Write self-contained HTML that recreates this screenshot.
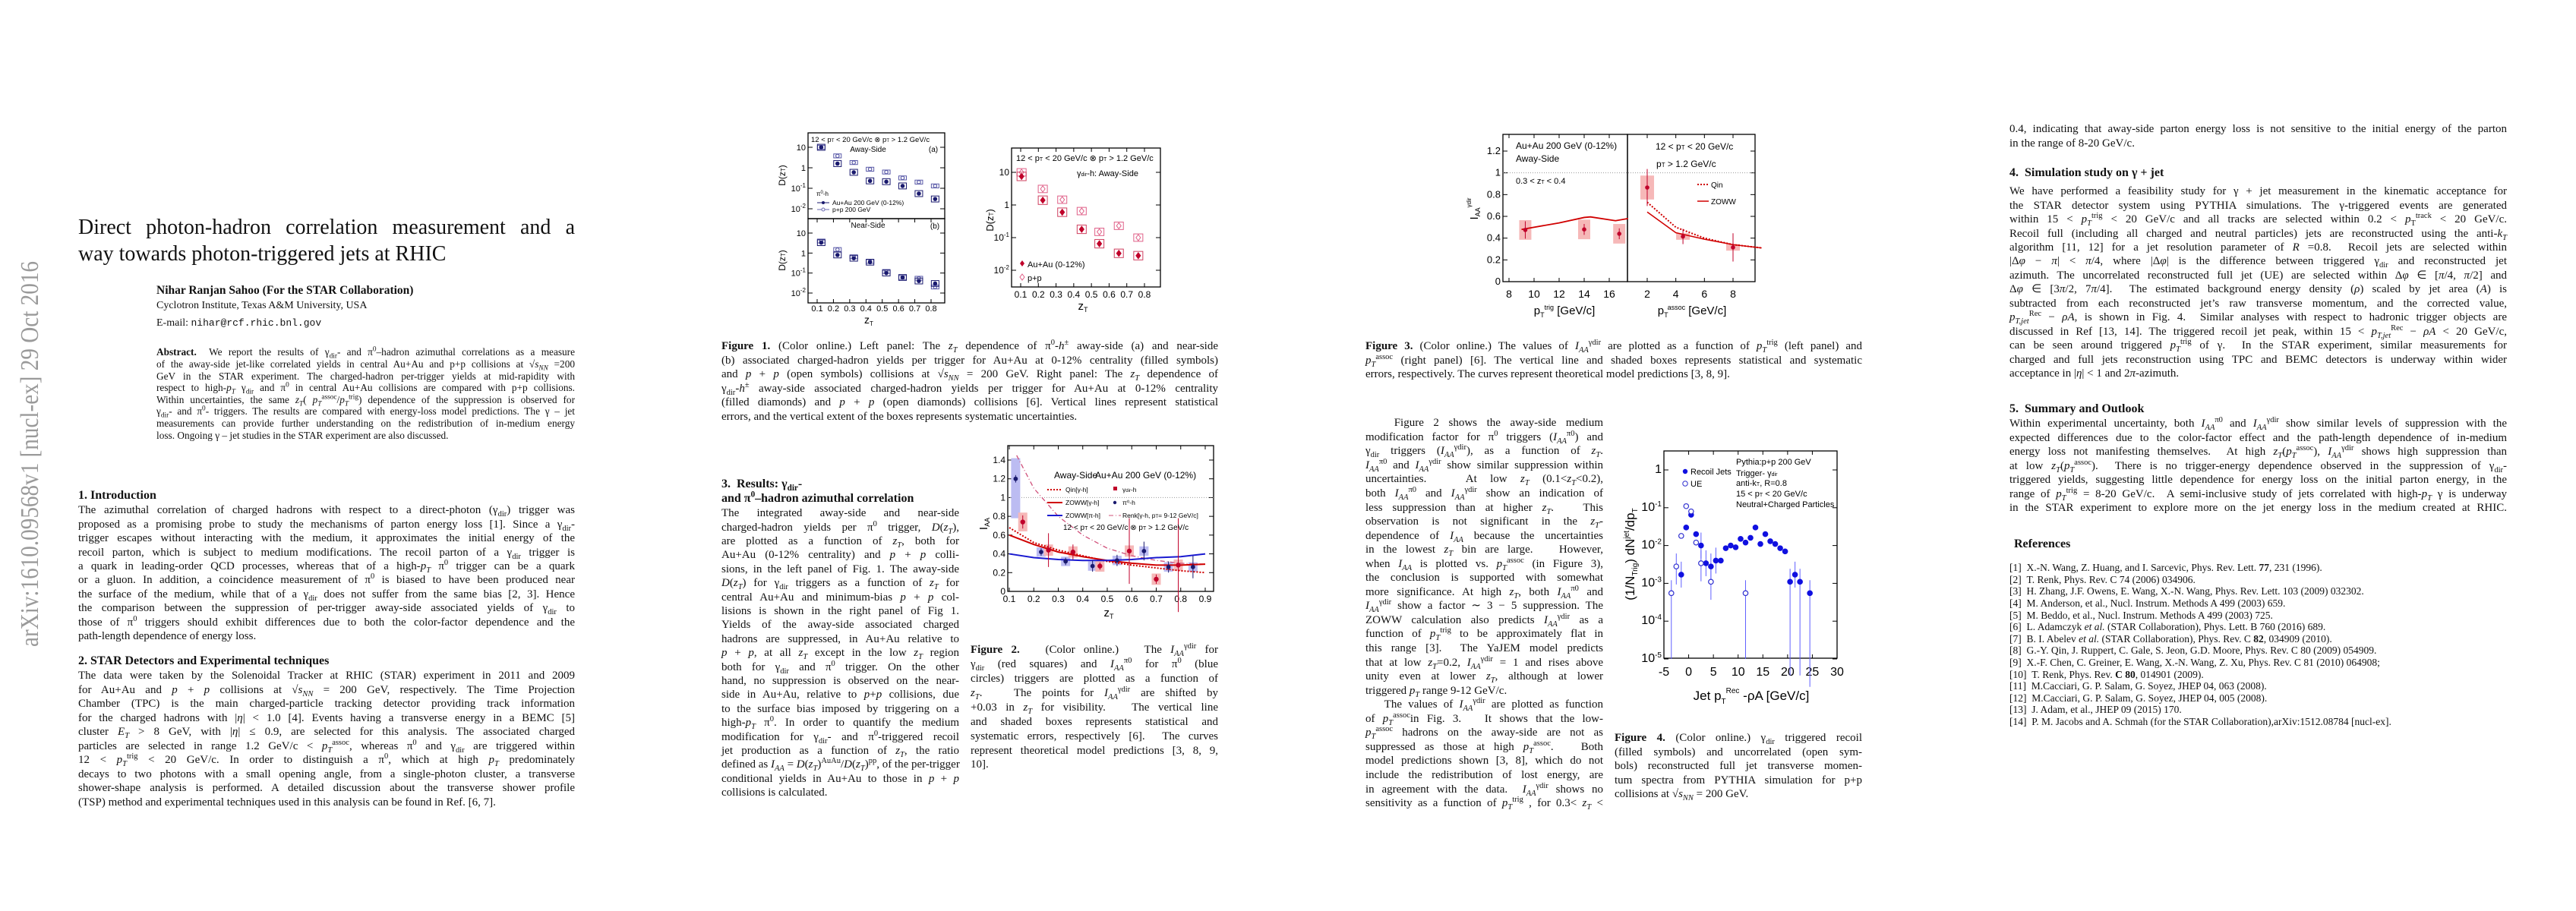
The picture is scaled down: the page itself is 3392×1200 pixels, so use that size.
<!DOCTYPE html>
<html><head><meta charset="utf-8">
<style>
html,body{margin:0;padding:0;background:#fff;}
body{width:3392px;height:1200px;position:relative;overflow:hidden;font-family:"Liberation Serif",serif;color:#111;}
.ln{position:absolute;white-space:nowrap;line-height:1.2;text-align:justify;}
.ln sub,.ln sup{font-size:0.7em;line-height:0;}
svg text{font-family:"Liberation Sans",sans-serif;}
</style></head>
<body>
<svg id="side" width="80" height="1200" style="position:absolute;left:0;top:0">
<text x="0" y="0" transform="translate(50,852) rotate(-90)" textLength="508" lengthAdjust="spacingAndGlyphs" font-size="34" fill="#9a9a9a" style="font-family:'Liberation Serif',serif">arXiv:1610.09568v1  [nucl-ex]  29 Oct 2016</text>
</svg>
<div id="text"></div>
<svg id="charts" width="3392" height="1200" style="position:absolute;left:0;top:0"></svg>
<script>
// ---------------- TEXT ----------------
const T=document.getElementById('text');
function L(x,y,w,fs,html,just,bold,name){
  const d=document.createElement('div');
  
  
  d.className='ln';
  d.style.left=x+'px';d.style.top=(y-0.72*fs)+'px';d.style.fontSize=fs+'px';
  if(w){d.style.width=w+'px';}
  if(just){d.style.textAlignLast='justify';}
  if(bold){d.style.fontWeight='bold';}
  d.innerHTML=html;T.appendChild(d);
}
function B(x,y0,dy,w,fs,lines,name){
  lines.forEach((s,i)=>{const last=s[0]==='~';L(x,y0+i*dy,w,fs,last?s.slice(1):s,!last,false,name);});
}
const g='γ<sub>dir</sub>';
// Page 1
L(103,303,654,28,'Direct photon-hadron correlation measurement and a',true,false,'paper-title');
L(103,338,0,28,'way towards photon-triggered jets at RHIC',false,false,'paper-title');
L(206,385,0,15.5,'Nihar Ranjan Sahoo (For the STAR Collaboration)',false,true,'author-name');
L(206,405,0,14,'Cyclotron Institute, Texas A&amp;M University, USA',false,false,'affiliation');
L(206,428,0,14,'E-mail: <span style="font-family:Liberation Mono,monospace;font-size:13px">nihar@rcf.rhic.bnl.gov</span>',false,false,'email');
B(206,466,15.6,551,13.3,[
'<b>Abstract.</b>&nbsp; We report the results of '+g+'- and π<sup>0</sup>–hadron azimuthal correlations as a measure',
'of the away-side jet-like correlated yields in central Au+Au and p+p collisions at √<i>s<sub>NN</sub></i> =200',
'GeV in the STAR experiment.  The charged-hadron per-trigger yields at mid-rapidity with',
'respect to high-<i>p<sub>T</sub></i> '+g+' and π<sup>0</sup> in central Au+Au collisions are compared with p+p collisions.',
'Within uncertainties, the same <i>z<sub>T</sub></i>( <i>p<sub>T</sub></i><sup>assoc</sup>/<i>p<sub>T</sub></i><sup>trig</sup>) dependence of the suppression is observed for',
g+'- and π<sup>0</sup>- triggers. The results are compared with energy-loss model predictions. The γ – jet',
'measurements can provide further understanding on the redistribution of in-medium energy',
'~loss. Ongoing γ – jet studies in the STAR experiment are also discussed.'],'abstract-line');
L(103,655,0,16,'1. Introduction',false,true,'section-heading');
B(103,674,18.45,654,15,[
'The azimuthal correlation of charged hadrons with respect to a direct-photon ('+g+') trigger was',
'proposed as a promising probe to study the mechanisms of parton energy loss [1]. Since a '+g+'-',
'trigger escapes without interacting with the medium, it approximates the initial energy of the',
'recoil parton, which is subject to medium modifications. The recoil parton of a '+g+' trigger is',
'a quark in leading-order QCD processes, whereas that of a high-<i>p<sub>T</sub></i> π<sup>0</sup> trigger can be a quark',
'or a gluon. In addition, a coincidence measurement of π<sup>0</sup> is biased to have been produced near',
'the surface of the medium, while that of a '+g+' does not suffer from the same bias [2, 3]. Hence',
'the comparison between the suppression of per-trigger away-side associated yields of '+g+' to',
'those of π<sup>0</sup> triggers should exhibit differences due to both the color-factor dependence and the',
'~path-length dependence of energy loss.'],'intro-line');
L(103,873,0,16,'2. STAR Detectors and Experimental techniques',false,true,'section-heading');
B(103,892,18.5,654,15,[
'The data were taken by the Solenoidal Tracker at RHIC (STAR) experiment in 2011 and 2009',
'for Au+Au and <i>p</i> + <i>p</i> collisions at √<i>s<sub>NN</sub></i> = 200 GeV, respectively.  The Time Projection',
'Chamber (TPC) is the main charged-particle tracking detector providing track information',
'for the charged hadrons with |<i>η</i>| &lt; 1.0 [4]. Events having a transverse energy in a BEMC  [5]',
'cluster <i>E<sub>T</sub></i> &gt; 8 GeV, with |<i>η</i>| ≤ 0.9, are selected for this analysis.  The associated charged',
'particles are selected in range 1.2 GeV/c &lt; <i>p<sub>T</sub></i><sup>assoc</sup>, whereas π<sup>0</sup> and '+g+' are triggered within',
'12 &lt; <i>p<sub>T</sub></i><sup>trig</sup> &lt; 20 GeV/c.  In order to distinguish a π<sup>0</sup>, which at high <i>p<sub>T</sub></i> predominately',
'decays to two photons with a small opening angle, from a single-photon cluster, a transverse',
'shower-shape analysis is performed. A detailed discussion about the transverse shower profile',
'~(TSP) method and experimental techniques used in this analysis can be found in Ref. [6, 7].'],'section2-line');
// Page 2
B(950,458,18.5,654,15,[
'<b>Figure 1.</b> (Color online.) Left panel: The <i>z<sub>T</sub></i> dependence of π<sup>0</sup>-<i>h</i><sup>±</sup> away-side (a) and near-side',
'(b) associated charged-hadron yields per trigger for Au+Au at 0-12% centrality (filled symbols)',
'and <i>p</i> + <i>p</i> (open symbols) collisions at √<i>s<sub>NN</sub></i> = 200 GeV. Right panel: The <i>z<sub>T</sub></i> dependence of',
g+'-<i>h</i><sup>±</sup> away-side associated charged-hadron yields per trigger for Au+Au at 0-12% centrality',
'(filled diamonds) and <i>p</i> + <i>p</i> (open diamonds) collisions [6].  Vertical lines represent statistical',
'~errors, and the vertical extent of the boxes represents systematic uncertainties.'],'figure1-caption');
L(950,640,0,16,'3. &nbsp;Results: '+g+'-',false,true,'section-heading');
L(950,659,0,16,'and π<sup>0</sup>–hadron azimuthal correlation',false,true,'section-heading');
B(950,678,18.4,313,15,[
'The integrated away-side and near-side',
'charged-hadron yields per π<sup>0</sup> trigger, <i>D</i>(<i>z<sub>T</sub></i>),',
'are plotted as a function of <i>z<sub>T</sub></i>, both for',
'Au+Au (0-12% centrality) and <i>p</i> + <i>p</i> colli-',
'sions, in the left panel of Fig. 1. The away-side',
'<i>D</i>(<i>z<sub>T</sub></i>) for '+g+' triggers as a function of <i>z<sub>T</sub></i> for',
'central Au+Au and minimum-bias <i>p</i> + <i>p</i> col-',
'lisions is shown in the right panel of Fig 1.',
'Yields of the away-side associated charged',
'hadrons are suppressed, in Au+Au relative to',
'<i>p</i> + <i>p</i>, at all <i>z<sub>T</sub></i> except in the low <i>z<sub>T</sub></i> region',
'both for '+g+' and π<sup>0</sup> trigger. On the other',
'hand, no suppression is observed on the near-',
'side in Au+Au, relative to <i>p</i>+<i>p</i> collisions, due',
'to the surface bias imposed by triggering on a',
'high-<i>p<sub>T</sub></i> π<sup>0</sup>. In order to quantify the medium',
'modification for '+g+'- and π<sup>0</sup>-triggered recoil',
'jet production as a function of <i>z<sub>T</sub></i>, the ratio',
'defined as <i>I<sub>AA</sub></i> = <i>D</i>(<i>z<sub>T</sub></i>)<sup>AuAu</sup>/<i>D</i>(<i>z<sub>T</sub></i>)<sup>pp</sup>, of the per-trigger',
'conditional yields in Au+Au to those in <i>p</i> + <i>p</i>',
'~collisions is calculated.'],'section3-line');
B(1278,858,18.9,326,15,[
'<b>Figure 2.</b> &nbsp; (Color online.) &nbsp; The <i>I<sub>AA</sub></i><sup>γdir</sup> for',
g+' (red squares) and <i>I<sub>AA</sub></i><sup>π0</sup> for π<sup>0</sup> (blue',
'circles) triggers are plotted as a function of',
'<i>z<sub>T</sub></i>. &nbsp; The points for <i>I<sub>AA</sub></i><sup>γdir</sup> are shifted by',
'+0.03 in <i>z<sub>T</sub></i> for visibility. &nbsp; The vertical line',
'and shaded boxes represents statistical and',
'systematic errors, respectively [6]. &nbsp;The curves',
'represent theoretical model predictions [3, 8, 9,',
'~10].'],'figure2-caption');
// Page 3
B(1798,458,18.3,654,15,[
'<b>Figure 3.</b> (Color online.) The values of <i>I<sub>AA</sub></i><sup>γdir</sup> are plotted as a function of <i>p<sub>T</sub></i><sup>trig</sup> (left panel) and',
'<i>p<sub>T</sub></i><sup>assoc</sup> (right panel) [6]. The vertical line and shaded boxes represents statistical and systematic',
'~errors, respectively. The curves represent theoretical model predictions [3, 8, 9].'],'figure3-caption');
B(1798,559,18.55,313,15,[
'&nbsp;&nbsp;&nbsp;Figure 2 shows the away-side medium',
'modification factor for π<sup>0</sup> triggers (<i>I<sub>AA</sub></i><sup>π0</sup>) and',
g+' triggers (<i>I<sub>AA</sub></i><sup>γdir</sup>), as a function of <i>z<sub>T</sub></i>.',
'<i>I<sub>AA</sub></i><sup>π0</sup> and <i>I<sub>AA</sub></i><sup>γdir</sup> show similar suppression within',
'uncertainties. &nbsp; At low <i>z<sub>T</sub></i> (0.1&lt;<i>z<sub>T</sub></i>&lt;0.2),',
'both <i>I<sub>AA</sub></i><sup>π0</sup> and <i>I<sub>AA</sub></i><sup>γdir</sup> show an indication of',
'less suppression than at higher <i>z<sub>T</sub></i>. &nbsp; This',
'observation is not significant in the <i>z<sub>T</sub></i>-',
'dependence of <i>I<sub>AA</sub></i> because the uncertainties',
'in the lowest <i>z<sub>T</sub></i> bin are large. &nbsp; However,',
'when <i>I<sub>AA</sub></i> is plotted vs. <i>p<sub>T</sub></i><sup>assoc</sup> (in Figure 3),',
'the conclusion is supported with somewhat',
'more significance. At high <i>z<sub>T</sub></i>, both <i>I<sub>AA</sub></i><sup>π0</sup> and',
'<i>I<sub>AA</sub></i><sup>γdir</sup> show a factor ∼ 3 − 5 suppression. The',
'ZOWW calculation also predicts <i>I<sub>AA</sub></i><sup>γdir</sup> as a',
'function of <i>p<sub>T</sub></i><sup>trig</sup> to be approximately flat in',
'this range [3]. &nbsp;The YaJEM model predicts',
'that at low <i>z<sub>T</sub></i>=0.2, <i>I<sub>AA</sub></i><sup>γdir</sup> = 1 and rises above',
'unity even at lower <i>z<sub>T</sub></i>, although at lower',
'~triggered <i>p<sub>T</sub></i> range 9-12 GeV/c.',
'&nbsp;&nbsp;&nbsp;The values of <i>I<sub>AA</sub></i><sup>γdir</sup> are plotted as function',
'of <i>p<sub>T</sub></i><sup>assoc</sup>in Fig. 3. &nbsp; It shows that the low-',
'<i>p<sub>T</sub></i><sup>assoc</sup> hadrons on the away-side are not as',
'suppressed as those at high <i>p<sub>T</sub></i><sup>assoc</sup>. &nbsp; Both',
'model predictions shown [3, 8], which do not',
'include the redistribution of lost energy, are',
'in agreement with the data. &nbsp;<i>I<sub>AA</sub></i><sup>γdir</sup> shows no',
'sensitivity as a function of <i>p<sub>T</sub></i><sup>trig</sup> , for 0.3&lt; <i>z<sub>T</sub></i> &lt;'],'page3-body-line');
B(2126,974,18.5,326,15,[
'<b>Figure 4.</b> (Color online.) '+g+' triggered recoil',
'(filled symbols) and uncorrelated (open sym-',
'bols) reconstructed full jet transverse momen-',
'tum spectra from PYTHIA simulation for p+p',
'~collisions at √<i>s<sub>NN</sub></i> = 200 GeV.'],'figure4-caption');
// Page 4
B(2646,172,18.4,655,15,[
'0.4, indicating that away-side parton energy loss is not sensitive to the initial energy of the parton',
'~in the range of 8-20 GeV/c.'],'page4-body-line');
L(2646,230,0,16,'4. &nbsp;Simulation study on γ + jet',false,true,'section-heading');
B(2646,254,18.45,655,15,[
'We have performed a feasibility study for γ + jet measurement in the kinematic acceptance for',
'the STAR detector system using PYTHIA simulations. The γ-triggered events are generated',
'within 15 &lt; <i>p<sub>T</sub></i><sup>trig</sup> &lt; 20 GeV/c and all tracks are selected within 0.2 &lt; <i>p</i><sub>T</sub><sup>track</sup> &lt; 20 GeV/c.',
'Recoil full (including all charged and neutral particles) jets are reconstructed using the anti-<i>k<sub>T</sub></i>',
'algorithm [11, 12] for a jet resolution parameter of <i>R</i> =0.8. &nbsp;Recoil jets are selected within',
'|Δ<i>φ</i> − <i>π</i>| &lt; <i>π</i>/4, where |Δ<i>φ</i>| is the difference between triggered '+g+' and reconstructed jet',
'azimuth. The uncorrelated reconstructed full jet (UE) are selected within Δ<i>φ</i> ∈ [<i>π</i>/4, <i>π</i>/2] and',
'Δ<i>φ</i> ∈ [3<i>π</i>/2, 7<i>π</i>/4]. &nbsp;The estimated background energy density (<i>ρ</i>) scaled by jet area (<i>A</i>) is',
'subtracted from each reconstructed jet’s raw transverse momentum, and the corrected value,',
'<i>p<sub>T,jet</sub></i><sup>Rec</sup> − <i>ρA</i>, is shown in Fig. 4. &nbsp;Similar analyses with respect to hadronic trigger objects are',
'discussed in Ref [13, 14]. The triggered recoil jet peak, within 15 &lt; <i>p<sub>T,jet</sub></i><sup>Rec</sup> − <i>ρA</i> &lt; 20 GeV/c,',
'can be seen around triggered <i>p<sub>T</sub></i><sup>trig</sup> of γ. &nbsp;In the STAR experiment, similar measurements for',
'charged and full jets reconstruction using TPC and BEMC detectors is underway within wider',
'~acceptance in |<i>η</i>| &lt; 1 and 2<i>π</i>-azimuth.'],'section4-line');
L(2646,541,0,16,'5. &nbsp;Summary and Outlook',false,true,'section-heading');
B(2646,560,18.5,655,15,[
'Within experimental uncertainty, both <i>I<sub>AA</sub></i><sup>π0</sup> and <i>I<sub>AA</sub></i><sup>γdir</sup> show similar levels of suppression with the',
'expected differences due to the color-factor effect and the path-length dependence of in-medium',
'energy loss not manifesting themselves. &nbsp;At high <i>z<sub>T</sub></i>(<i>p<sub>T</sub></i><sup>assoc</sup>), <i>I<sub>AA</sub></i><sup>γdir</sup> shows high suppression than',
'at low <i>z<sub>T</sub></i>(<i>p<sub>T</sub></i><sup>assoc</sup>). &nbsp;There is no trigger-energy dependence observed in the suppression of '+g+'-',
'triggered yields, suggesting little dependence for energy loss on the initial parton energy, in the',
'range of <i>p<sub>T</sub></i><sup>trig</sup> = 8-20 GeV/c. &nbsp;A semi-inclusive study of jets correlated with high-<i>p<sub>T</sub></i> γ is underway',
'in the STAR experiment to explore more on the jet energy loss in the medium created at RHIC.'],'section5-line');
L(2652,719,0,16,'References',false,true,'references-heading');
const refs=['[1] &nbsp;X.-N. Wang, Z. Huang, and I. Sarcevic, Phys. Rev. Lett. <b>77</b>, 231 (1996).',
'[2] &nbsp;T. Renk, Phys. Rev. C 74 (2006) 034906.',
'[3] &nbsp;H. Zhang, J.F. Owens, E. Wang, X.-N. Wang, Phys. Rev. Lett. 103 (2009) 032302.',
'[4] &nbsp;M. Anderson, et al., Nucl. Instrum. Methods A 499 (2003) 659.',
'[5] &nbsp;M. Beddo, et al., Nucl. Instrum. Methods A 499 (2003) 725.',
'[6] &nbsp;L. Adamczyk <i>et al.</i> (STAR Collaboration), Phys. Lett. B 760 (2016) 689.',
'[7] &nbsp;B. I. Abelev <i>et al.</i> (STAR Collaboration), Phys. Rev. C <b>82</b>, 034909 (2010).',
'[8] &nbsp;G.-Y. Qin, J. Ruppert, C. Gale, S. Jeon, G.D. Moore, Phys. Rev. C 80 (2009) 054909.',
'[9] &nbsp;X.-F. Chen, C. Greiner, E. Wang, X.-N. Wang, Z. Xu, Phys. Rev. C 81 (2010) 064908;',
'[10] &nbsp;T. Renk, Phys. Rev. <b>C 80</b>, 014901 (2009).',
'[11] &nbsp;M.Cacciari, G. P. Salam, G. Soyez, JHEP 04, 063 (2008).',
'[12] &nbsp;M.Cacciari, G. P. Salam, G. Soyez, JHEP 04, 005 (2008).',
'[13] &nbsp;J. Adam, et al., JHEP 09 (2015) 170.',
'[14] &nbsp;P. M. Jacobs and A. Schmah (for the STAR Collaboration),arXiv:1512.08784 [nucl-ex].'];
refs.forEach((r,i)=>L(2646,750+i*15.6,0,13.5,r,false,false,'reference-entry'));
</script>
<script>
// ---------------- CHART DATA ----------------
const zt1=[0.125,0.225,0.325,0.425,0.525,0.625,0.725,0.825];
const f1aAuAu=[10,1.6,0.6,0.23,0.21,0.13,0.055,0.03];
const f1aPP=[10,3.8,1.8,0.85,0.62,0.32,0.2,0.13];
const f1bAuAu=[3.3,0.8,0.55,0.35,0.1,0.06,0.04,0.03];
const f1bPP=[4,1.5,0.65,0.38,0.12,0.06,0.055,0.02];
const zt1r=[0.105,0.225,0.335,0.445,0.545,0.655,0.765];
const f1rAuAu=[7.5,1.4,0.6,0.18,0.065,0.033,0.028];
const f1rPP=[10,3.1,1.45,0.65,0.15,0.23,0.1];
const zt2pi=[0.126,0.23,0.33,0.44,0.54,0.65,0.75,0.85];
const iaaPi=[1.2,0.42,0.32,0.27,0.33,0.43,0.26,0.26];
const iaaPiErr=[0.04,0.04,0.04,0.06,0.06,0.1,0.06,0.12];
const zt2g=[0.155,0.26,0.36,0.47,0.59,0.70,0.79];
const iaaG=[0.74,0.44,0.42,0.27,0.43,0.13,0.28];
const iaaGErr=[0.07,0.18,0.08,0.04,0.35,0.05,0.5];
const zowwGx=[0.1,0.2,0.3,0.4,0.5,0.6,0.7,0.8,0.9];
const zowwG=[0.6,0.5,0.42,0.37,0.33,0.3,0.28,0.28,0.29];
const zowwPi=[0.4,0.36,0.34,0.33,0.33,0.34,0.36,0.37,0.4];
const qinG=[0.68,0.52,0.44,0.38,0.32,0.28,0.25,0.22,0.2];
const renkX=[0.13,0.2,0.3,0.4,0.5,0.6,0.7,0.8,0.9];
const renkG=[1.45,1.1,0.8,0.6,0.46,0.38,0.33,0.3,0.29];
const ptTrig=[9.3,14,16.8];
const iaaTrig=[0.475,0.48,0.44];
const zowwTrigX=[9,12,14,14.5,16.5,17.5];
const zowwTrig=[0.48,0.54,0.59,0.595,0.56,0.58];
const ptAssoc=[2,4.5,8];
const iaaAssoc=[0.865,0.415,0.315];
const modelAssocX=[2,4,6,8,10];
const qinAssoc=[0.73,0.5,0.4,0.34,0.31];
const zowwAssoc=[0.64,0.45,0.39,0.34,0.31];
const jetX=[-1.5,-0.5,0.5,1.5,2.5,3.5,4.5,5.5,6.5,7.5,8.5,9.5,10.5,11.5,12.5,13.5,14.5,15.5,16.5,17.5,18.5,19.5,20.5,21.5,22.5,24.5];
const jetY=[0.0017,0.03,0.065,0.02,0.01,0.0034,0.0028,0.004,0.004,0.0085,0.01,0.009,0.015,0.012,0.016,0.03,0.011,0.02,0.013,0.011,0.0085,0.007,0.0011,0.0017,0.0011,0.00055];
const ueX=[-3.5,-2.5,-1.5,-0.5,0.5,1.5,2.5,4.5,11.5];
const ueY=[0.00055,0.0028,0.018,0.11,0.08,0.012,0.0034,0.0011,0.00055];
const logTicks=['10<tspan dy="-5" font-size="8">-2</tspan>','10<tspan dy="-5" font-size="8">-1</tspan>','1','10'];

// ---------------- HELPERS ----------------
const S=document.getElementById('charts');const NS='http://www.w3.org/2000/svg';
function el(tag,attrs,parent){const e=document.createElementNS(NS,tag);for(const k in attrs)e.setAttribute(k,attrs[k]);(parent||S).appendChild(e);return e;}
function lin(v0,p0,v1,p1){return v=>p0+(v-v0)*(p1-p0)/(v1-v0);}
function lg(v0,p0,v1,p1){const f=lin(Math.log10(v0),p0,Math.log10(v1),p1);return v=>f(Math.log10(Math.max(v,1e-9)));}
function frame(x0,y0,x1,y1,name){const r=el('rect',{x:x0,y:y0,width:x1-x0,height:y1-y0,fill:'none',stroke:'#000','stroke-width':1.3});}
function txt(x,y,s,fs,anchor,name,extra){const t=el('text',Object.assign({x:x,y:y,'font-size':fs,'text-anchor':anchor||'middle',fill:'#000'},extra||{}));t.innerHTML=s;return t;}
function xticks(X,vals,labels,y0,y1,ylab,fs){vals.forEach((v,i)=>{el('line',{x1:X(v),x2:X(v),y1:y1,y2:y1-5,stroke:'#000'});el('line',{x1:X(v),x2:X(v),y1:y0,y2:y0+5,stroke:'#000'});txt(X(v),ylab,labels[i],fs,'middle','x-tick-label');});}
function yticks(Y,vals,labels,x0,x1,fs){vals.forEach((v,i)=>{el('line',{x1:x0,x2:x0+6,y1:Y(v),y2:Y(v),stroke:'#000'});el('line',{x1:x1,x2:x1-6,y1:Y(v),y2:Y(v),stroke:'#000'});txt(x0-3,Y(v)+4,labels[i],fs,'end','y-tick-label');});}
function pts(X,Y,xs,ys,opt){xs.forEach((x,i)=>{const cx=X(x),cy=Y(ys[i]);
  if(opt.box){const b=el('rect',{x:cx-opt.bw,y:Math.min(Y(ys[i]*opt.box),Y(ys[i]/opt.box)),width:2*opt.bw,height:Math.abs(Y(ys[i]*opt.box)-Y(ys[i]/opt.box)),fill:opt.boxFill||'none',stroke:opt.boxStroke||'none','stroke-width':1});}
  if(opt.err){el('line',{x1:cx,x2:cx,y1:Y(ys[i]+opt.err[i]),y2:Y(Math.max(ys[i]-opt.err[i],opt.floor||-1)),stroke:opt.color,'stroke-width':1});}
  let m;
  if(opt.shape==='dia'){const r=opt.r;m=el('polygon',{points:`${cx},${cy-r} ${cx+r*0.75},${cy} ${cx},${cy+r} ${cx-r*0.75},${cy}`,fill:opt.open?'#fff':opt.color,stroke:opt.color,'stroke-width':1});}
  else{m=el('circle',{cx:cx,cy:cy,r:opt.r,fill:opt.open?'#fff':opt.color,stroke:opt.color,'stroke-width':1.2});}
  });}
function curve(X,Y,xs,ys,attrs,name){const p=el('polyline',Object.assign({points:xs.map((x,i)=>X(x)+','+Y(ys[i])).join(' '),fill:'none'},attrs));}

// ---------------- FIGURE 1 LEFT ----------------
(function(){
  const X=lin(0.1,1076,0.8,1226);
  const Ya=lg(10,194,0.01,275), Yb=lg(10,307,0.01,386);
  frame(1064,175,1244,288,'fig1-panel-a');frame(1064,288,1244,399,'fig1-panel-b');
  yticks(Ya,[0.01,0.1,1,10],logTicks,1064,1244,11);yticks(Yb,[0.01,0.1,1,10],logTicks,1064,1244,11);
  xticks(X,[0.1,0.2,0.3,0.4,0.5,0.6,0.7,0.8],['0.1','0.2','0.3','0.4','0.5','0.6','0.7','0.8'],288,399,410,11);
  txt(1144,426,'z<tspan dy="3" font-size="8">T</tspan>',14,'middle','x-axis-title');
  txt(1034,231,'D(z<tspan font-size="8">T</tspan>)',12,'middle','y-axis-title',{transform:'rotate(-90 1034 231)'});
  txt(1034,343,'D(z<tspan font-size="8">T</tspan>)',12,'middle','y-axis-title',{transform:'rotate(-90 1034 343)'});
  txt(1068,187,'12 &lt; p<tspan font-size="6">T</tspan> &lt; 20 GeV/c ⊗ p<tspan font-size="6">T</tspan> &gt; 1.2 GeV/c',9.5,'start','panel-annotation');
  txt(1143,200,'Away-Side',10,'middle','panel-annotation');txt(1229,200,'(a)',10,'middle','panel-annotation');
  txt(1143,300,'Near-Side',10,'middle','panel-annotation');txt(1231,301,'(b)',10,'middle','panel-annotation');
  txt(1075,258,'π<tspan font-size="6" dy="-3">0</tspan><tspan dy="3">-h</tspan>',8,'start','legend-title');
  el('line',{x1:1076,x2:1092,y1:267,y2:267,stroke:'#1a1a6e'});el('circle',{cx:1084,cy:267,r:2,fill:'#1a1a6e'});
  txt(1096,270,'Au+Au 200 GeV (0-12%)',8.5,'start','legend-entry');
  el('line',{x1:1076,x2:1092,y1:276,y2:276,stroke:'#6a6ab0'});el('circle',{cx:1084,cy:276,r:2,fill:'#fff',stroke:'#6a6ab0'});
  txt(1096,279,'p+p 200 GeV',8.5,'start','legend-entry');
  pts(X,Ya,zt1,f1aPP,{r:2.2,color:'#5a5aa8',open:true,box:1.25,bw:5,boxStroke:'#5a5aa8',name:'pp-away-point'});
  pts(X,Ya,zt1,f1aAuAu,{r:2.2,color:'#1a1a6e',box:1.4,bw:5,boxStroke:'#1a1a6e',name:'auau-away-point'});
  pts(X,Yb,zt1,f1bPP,{r:2.2,color:'#5a5aa8',open:true,box:1.25,bw:5,boxStroke:'#5a5aa8',name:'pp-near-point'});
  pts(X,Yb,zt1,f1bAuAu,{r:2.2,color:'#1a1a6e',box:1.4,bw:5,boxStroke:'#1a1a6e',name:'auau-near-point'});
})();
// ---------------- FIGURE 1 RIGHT ----------------
(function(){
  const X=lin(0.1,1344,0.8,1507), Y=lg(10,227,0.01,356);
  frame(1332,195,1528,378,'fig1-right-panel');
  yticks(Y,[0.01,0.1,1,10],logTicks,1332,1528,12);
  xticks(X,[0.1,0.2,0.3,0.4,0.5,0.6,0.7,0.8],['0.1','0.2','0.3','0.4','0.5','0.6','0.7','0.8'],195,378,392,12);
  txt(1426,408,'z<tspan dy="3" font-size="9">T</tspan>',15,'middle','x-axis-title');
  txt(1308,290,'D(z<tspan font-size="8">T</tspan>)',13,'middle','y-axis-title',{transform:'rotate(-90 1308 290)'});
  txt(1338,212,'12 &lt; p<tspan font-size="7">T</tspan> &lt; 20 GeV/c ⊗ p<tspan font-size="7">T</tspan> &gt; 1.2 GeV/c',11,'start','panel-annotation');
  txt(1418,232,'γ<tspan font-size="7">dir</tspan>-h: Away-Side',11,'start','panel-annotation');
  pts(X,Y,zt1r,f1rPP,{r:4,color:'#e06088',open:true,shape:'dia',box:1.3,bw:6,boxStroke:'#e06088',name:'pp-gamma-point'});
  pts(X,Y,zt1r,f1rAuAu,{r:4,color:'#c0002a',shape:'dia',box:1.35,bw:6,boxStroke:'#d04060',name:'auau-gamma-point'});
  el('polygon',{points:'1346,343 1349,347 1346,351 1343,347',fill:'#c0002a'});txt(1353,352,'Au+Au (0-12%)',11,'start','legend-entry');
  el('polygon',{points:'1346,361 1349,365 1346,369 1343,365',fill:'#fff',stroke:'#e06088'});txt(1353,370,'p+p',11,'start','legend-entry');
})();
// ---------------- FIGURE 2 ----------------
(function(){
  const X=lin(0.1,1329,0.9,1587), Y=lin(0,779,1.4,606);
  frame(1327,587,1598,779,'fig2-panel');
  yticks(Y,[0,0.2,0.4,0.6,0.8,1,1.2,1.4],['0','0.2','0.4','0.6','0.8','1','1.2','1.4'],1327,1598,12);
  xticks(X,[0.1,0.2,0.3,0.4,0.5,0.6,0.7,0.8,0.9],['0.1','0.2','0.3','0.4','0.5','0.6','0.7','0.8','0.9'],587,779,793,12);
  txt(1460,812,'z<tspan dy="3" font-size="9">T</tspan>',15,'middle','x-axis-title');
  txt(1300,690,'I<tspan font-size="9" dy="3">AA</tspan>',15,'middle','y-axis-title',{transform:'rotate(-90 1300 690)'});
  el('line',{x1:1327,x2:1598,y1:Y(1),y2:Y(1),stroke:'#999','stroke-dasharray':'1,2'});
  zt2pi.forEach((x,i)=>{const b=el('rect',{x:X(x)-6,y:Y(iaaPi[i]+(i==0?0.22:0.05)),width:12,height:Y(iaaPi[i]-(i==0?0.42:0.05))-Y(iaaPi[i]+(i==0?0.22:0.05)),fill:'#bcbcf2'});});
  zt2g.forEach((x,i)=>{const b=el('rect',{x:X(x)-6,y:Y(iaaG[i]+(i==0?0.1:0.06)),width:12,height:Y(iaaG[i]-(i==0?0.1:0.06))-Y(iaaG[i]+(i==0?0.1:0.06)),fill:'#f6b8b8'});});
  curve(X,Y,renkX,renkG,{stroke:'#d0507a','stroke-width':1.3,'stroke-dasharray':'6,3,1,3'},'renk-curve');
  curve(X,Y,zowwGx,qinG,{stroke:'#d00000','stroke-width':2,'stroke-dasharray':'2,2'},'qin-curve');
  curve(X,Y,zowwGx,zowwG,{stroke:'#d00000','stroke-width':2},'zoww-gamma-curve');
  curve(X,Y,zowwGx,zowwPi,{stroke:'#1a1ad0','stroke-width':2},'zoww-pi0-curve');
  pts(X,Y,zt2pi,iaaPi,{r:2.3,color:'#1a1a6e',err:iaaPiErr,name:'pi0-iaa-point'});
  pts(X,Y,zt2g,iaaG,{r:2.6,color:'#c0002a',err:iaaGErr,floor:0,name:'gamma-iaa-point'});
  txt(1388,630,'Away-Side',12,'start','panel-annotation');txt(1442,630,'Au+Au 200 GeV (0-12%)',12,'start','panel-annotation');
  const lx=1379;
  el('line',{x1:lx,x2:lx+20,y1:645,y2:645,stroke:'#d00000','stroke-width':2,'stroke-dasharray':'2,2'});txt(lx+24,648,'Qin[γ-h]',8.5,'start','legend-entry');
  el('line',{x1:lx,x2:lx+20,y1:662,y2:662,stroke:'#d00000','stroke-width':2});txt(lx+24,665,'ZOWW[γ-h]',8.5,'start','legend-entry');
  el('line',{x1:lx,x2:lx+20,y1:679,y2:679,stroke:'#1a1ad0','stroke-width':2});txt(lx+24,682,'ZOWW[π-h]',8.5,'start','legend-entry');
  el('rect',{x:1466,y:641,width:5,height:5,fill:'#c0002a'});txt(1478,648,'γ<tspan font-size="6">dir</tspan>-h',8.5,'start','legend-entry');
  el('circle',{cx:1468,cy:662,r:2.2,fill:'#1a1a6e'});txt(1478,665,'π⁰-h',8.5,'start','legend-entry');
  el('line',{x1:1460,x2:1476,y1:679,y2:679,stroke:'#d0507a','stroke-dasharray':'6,3,1,3'});txt(1478,682,'Renk[γ-h, p<tspan font-size="6">T</tspan>= 9-12 GeV/c]',8.5,'start','legend-entry');
  txt(1400,698,'12 &lt; p<tspan font-size="7">T</tspan> &lt; 20 GeV/c ⊗ p<tspan font-size="7">T</tspan> &gt; 1.2 GeV/c',10,'start','panel-annotation');
})();
// ---------------- FIGURE 3 ----------------
(function(){
  const Y=lin(0,371,1.2,199);
  const XL=lin(8,1987,16,2119), XR=lin(2,2169,8,2282);
  frame(1979,177,2143,371,'fig3-left-panel');frame(2143,177,2311,371,'fig3-right-panel');
  yticks(Y,[0,0.2,0.4,0.6,0.8,1,1.2],['0','0.2','0.4','0.6','0.8','1','1.2'],1979,2311,13);
  xticks(XL,[8,10,12,14,16],['8','10','12','14','16'],177,371,392,14);
  xticks(XR,[2,4,6,8],['2','4','6','8'],177,371,392,14);
  txt(2060,414,'p<tspan font-size="9" dy="4">T</tspan><tspan dy="-10" font-size="9">trig</tspan><tspan dy="6"> [GeV/c]</tspan>',15,'middle','x-axis-title');
  txt(2228,414,'p<tspan font-size="9" dy="4">T</tspan><tspan dy="-10" font-size="9">assoc</tspan><tspan dy="6"> [GeV/c]</tspan>',15,'middle','x-axis-title');
  txt(1946,275,'I<tspan font-size="9" dy="3">AA</tspan><tspan font-size="8" dy="-12">γdir</tspan>',15,'middle','y-axis-title',{transform:'rotate(-90 1946 275)'});
  el('line',{x1:1979,x2:2311,y1:Y(1),y2:Y(1),stroke:'#999','stroke-dasharray':'1,2'});
  ptTrig.forEach((x,i)=>{const b=el('rect',{x:XL(x)-8,y:Y(iaaTrig[i]+0.09),width:16,height:Y(0)-Y(0.18),fill:'#f6b8b8'});});
  ptAssoc.forEach((x,i)=>{const h=[0.11,0.03,0.03][i];const b=el('rect',{x:XR(x)-9,y:Y(iaaAssoc[i]+h),width:18,height:Y(0)-Y(2*h),fill:'#f6b8b8'});});
  curve(XL,Y,zowwTrigX,zowwTrig,{stroke:'#d00000','stroke-width':1.8},'zoww-trig-curve');
  curve(XR,Y,modelAssocX,qinAssoc,{stroke:'#d00000','stroke-width':2,'stroke-dasharray':'2,2'},'qin-assoc-curve');
  curve(XR,Y,modelAssocX,zowwAssoc,{stroke:'#d00000','stroke-width':1.5},'zoww-assoc-curve');
  pts(XL,Y,ptTrig,iaaTrig,{r:2.2,color:'#c0002a',err:[0.08,0.05,0.05],name:'iaa-trig-point'});
  pts(XR,Y,ptAssoc,iaaAssoc,{r:2.2,color:'#c0002a',err:[0.17,0.07,0.13],name:'iaa-assoc-point'});
  txt(1996,196,'Au+Au 200 GeV (0-12%)',12,'start','panel-annotation');txt(1996,213,'Away-Side',12,'start','panel-annotation');
  txt(1996,242,'0.3 &lt; z<tspan font-size="7">T</tspan> &lt; 0.4',11,'start','panel-annotation');
  txt(2180,197,'12 &lt; p<tspan font-size="8">T</tspan> &lt; 20 GeV/c',12,'start','panel-annotation');
  txt(2181,220,'p<tspan font-size="8">T</tspan> &gt; 1.2 GeV/c',12,'start','panel-annotation');
  el('line',{x1:2235,x2:2250,y1:243,y2:243,stroke:'#d00000','stroke-width':2,'stroke-dasharray':'2,2'});txt(2253,247,'Qin',10,'start','legend-entry');
  el('line',{x1:2235,x2:2250,y1:265,y2:265,stroke:'#d00000','stroke-width':1.5});txt(2253,269,'ZOWW',10,'start','legend-entry');
})();
// ---------------- FIGURE 4 ----------------
(function(){
  const X=lin(-5,2191,30,2419), Y=lg(1,619,1e-5,868);
  frame(2191,594,2419,867,'fig4-panel');
  yticks(Y,[1e-5,1e-4,1e-3,1e-2,1e-1,1],['10<tspan dy="-6" font-size="10">-5</tspan>','10<tspan dy="-6" font-size="10">-4</tspan>','10<tspan dy="-6" font-size="10">-3</tspan>','10<tspan dy="-6" font-size="10">-2</tspan>','10<tspan dy="-6" font-size="10">-1</tspan>','1'],2191,2419,16);
  xticks(X,[-5,0,5,10,15,20,25,30],['-5','0','5','10','15','20','25','30'],594,867,890,16);
  txt(2306,922,'Jet p<tspan font-size="10" dy="5">T</tspan><tspan font-size="10" dy="-14">Rec</tspan><tspan dy="9"> -ρA [GeV/c]</tspan>',17,'middle','x-axis-title');
  txt(2152,730,'(1/N<tspan font-size="10" dy="4">Trig</tspan><tspan dy="-4">) dN</tspan><tspan font-size="10" dy="-7">jet</tspan><tspan dy="7">/dp</tspan><tspan font-size="10" dy="4">T</tspan>',17,'middle','y-axis-title',{transform:'rotate(-90 2152 730)'});
  jetX.forEach((x,i)=>{if(jetY[i]<0.002||(x>2&&x<6)){el('line',{x1:X(x),x2:X(x),y1:Y(jetY[i]*2.2),y2:Y(jetY[i]/(jetY[i]<0.0012?300:2.2)),stroke:'#6060ff'});}});
  ueX.forEach((x,i)=>{if(ueY[i]<0.005){el('line',{x1:X(x),x2:X(x),y1:Y(ueY[i]*2.2),y2:Y(ueY[i]<0.0008?1e-5:ueY[i]/3),stroke:'#6060ff'});}});
  pts(X,Y,jetX,jetY,{r:3.2,color:'#1010e0',name:'recoil-jet-point'});
  pts(X,Y,ueX,ueY,{r:3.2,color:'#3030d0',open:true,name:'ue-point'});
  el('circle',{cx:2219,cy:621,r:3.2,fill:'#1010e0'});txt(2226,625,'Recoil Jets',11,'start','legend-entry');
  el('circle',{cx:2219,cy:637,r:3.2,fill:'#fff',stroke:'#3030d0'});txt(2226,641,'UE',11,'start','legend-entry');
  txt(2286,612,'Pythia:p+p 200 GeV',11,'start','panel-annotation');
  txt(2286,627,'Trigger- γ<tspan font-size="7">dir</tspan>',11,'start','panel-annotation');
  txt(2286,640,'anti-k<tspan font-size="7">T</tspan>, R=0.8',11,'start','panel-annotation');
  txt(2286,654,'15 &lt; p<tspan font-size="7">T</tspan> &lt; 20 GeV/c',11,'start','panel-annotation');
  txt(2286,668,'Neutral+Charged Particles',11,'start','panel-annotation');
})();
</script>
</body></html>
